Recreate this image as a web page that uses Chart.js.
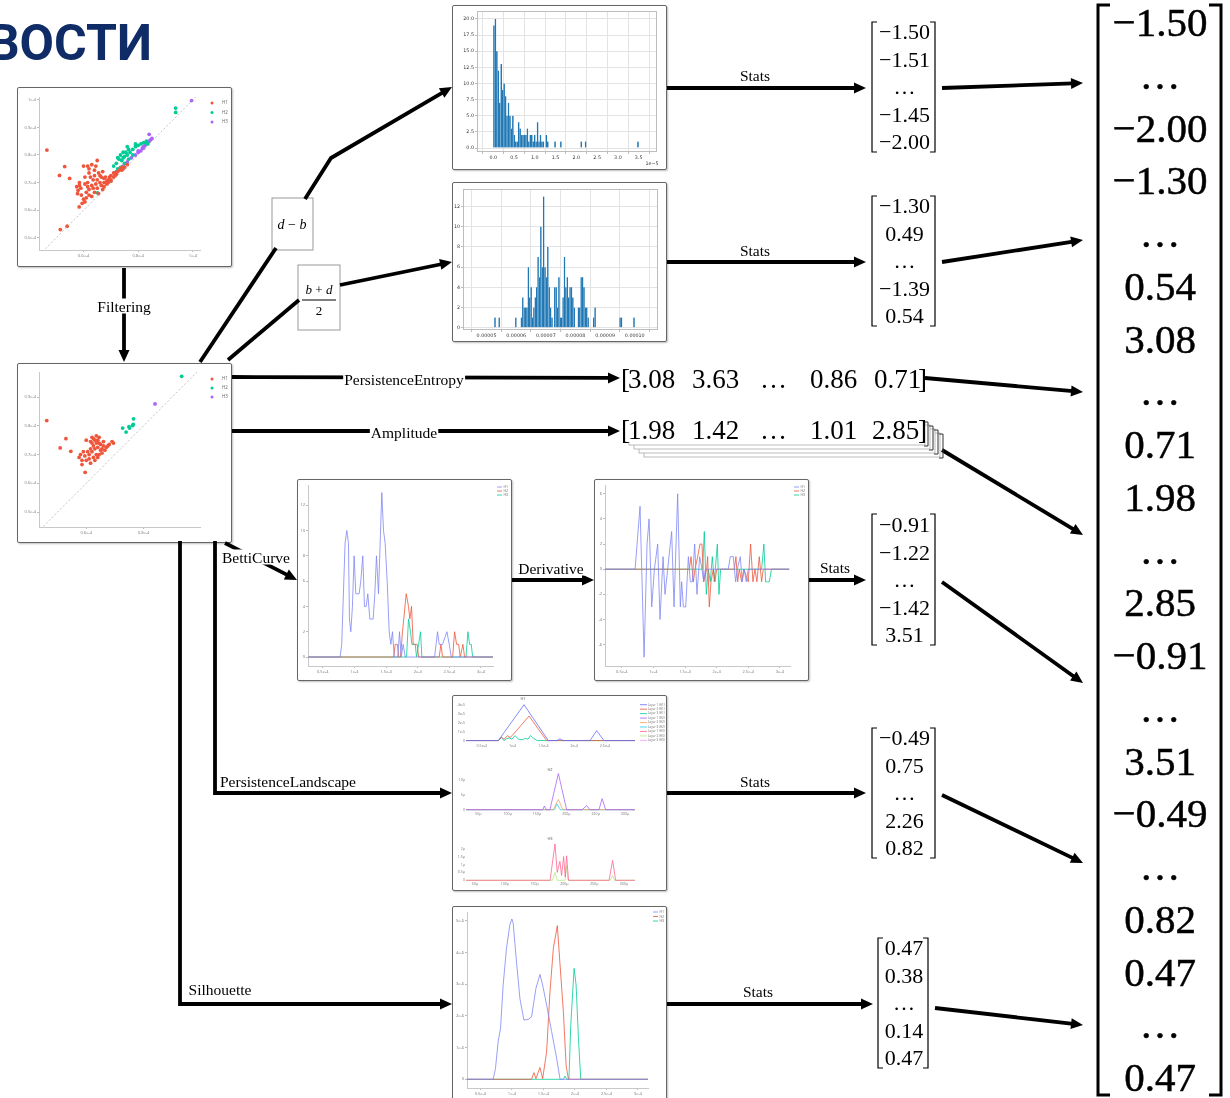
<!DOCTYPE html>
<html>
<head>
<meta charset="utf-8">
<script src="https://cdn.jsdelivr.net/npm/chart.js@4.4.1/dist/chart.umd.min.js"></script>
<style>
  html, body { margin: 0; padding: 0; background: #fff; }
  body { width: 1230px; height: 1098px; position: relative; overflow: hidden; }
  .panel { position: absolute; border: 1px solid #666; border-radius: 2px; background: #fff;
           box-shadow: 1px 1px 2px rgba(0,0,0,0.25); overflow: hidden; z-index: 1; }
  .panel canvas { display: block; }
  #diagram { position: absolute; left: 0; top: 0; z-index: 2; pointer-events: none; }
</style>
</head>
<body>
<div class="panel" style="left:17px;top:87px;width:213px;height:178px"><canvas id="scatter1" width="213" height="178"></canvas></div>
<div class="panel" style="left:17px;top:363px;width:213px;height:178px"><canvas id="scatter2" width="213" height="178"></canvas></div>
<div class="panel" style="left:452px;top:5px;width:213px;height:163px"><canvas id="hist1" width="213" height="163"></canvas></div>
<div class="panel" style="left:452px;top:182px;width:213px;height:158px"><canvas id="hist2" width="213" height="158"></canvas></div>
<div class="panel" style="left:297px;top:479px;width:213px;height:200px"><canvas id="betti" width="213" height="200"></canvas></div>
<div class="panel" style="left:594px;top:479px;width:213px;height:200px"><canvas id="deriv" width="213" height="200"></canvas></div>
<div class="panel" style="left:452px;top:695px;width:213px;height:194px">
  <canvas id="land1" width="213" height="60"></canvas>
  <canvas id="land2" width="213" height="70"></canvas>
  <canvas id="land3" width="213" height="64"></canvas>
</div>
<div class="panel" style="left:452px;top:906px;width:213px;height:198px"><canvas id="silh" width="213" height="198"></canvas></div>
<svg id="diagram" width="1230" height="1098"></svg>

<script>
// ---------- data (x in units of 1e-4 unless noted) ----------
const homologyLabels = ['H1', 'H2', 'H3'];

const diagH1 = [[0.466,0.818],[0.512,0.726],[0.531,0.758],[0.549,0.715],[0.515,0.530],[0.540,0.542],[0.584,0.612],
  [0.575,0.685],[0.58,0.672],[0.585,0.69],[0.59,0.68],[0.578,0.66],[0.592,0.655],[0.6,0.64],[0.595,0.625],[0.605,0.63],
  [0.61,0.645],[0.585,0.70],[0.6,0.76],[0.615,0.76],[0.63,0.765],[0.645,0.76],[0.65,0.78],[0.64,0.745],[0.62,0.735],
  [0.605,0.72],[0.625,0.72],[0.635,0.71],[0.655,0.735],[0.665,0.72],[0.67,0.74],[0.68,0.72],[0.69,0.71],[0.66,0.70],
  [0.645,0.695],[0.63,0.69],[0.615,0.70],[0.65,0.68],[0.665,0.69],[0.675,0.70],[0.685,0.695],[0.695,0.72],[0.70,0.705],
  [0.71,0.72],[0.72,0.735],[0.72,0.73],[0.73,0.745],[0.74,0.755],[0.745,0.75],[0.62,0.675],[0.64,0.665],[0.655,0.66],
  [0.67,0.675],[0.675,0.685],[0.69,0.70],[0.63,0.65],[0.62,0.655],[0.61,0.665],[0.7,0.71],[0.715,0.725],[0.74,0.745],
  [0.76,0.765],[0.75,0.755],[0.65,0.71],[0.66,0.725],[0.64,0.725],[0.605,0.695],[0.615,0.685],[0.635,0.68],[0.675,0.715],
  [0.685,0.705],[0.62,0.75],[0.7,0.725],[0.71,0.735],[0.725,0.74]];
const diagH2 = [[0.651,0.663],[0.71,0.76],[0.72,0.77],[0.725,0.79],[0.73,0.785],[0.735,0.80],[0.74,0.78],[0.745,0.79],
  [0.75,0.795],[0.755,0.81],[0.76,0.80],[0.76,0.83],[0.765,0.82],[0.77,0.81],[0.78,0.82],[0.79,0.83],[0.80,0.835],
  [0.81,0.84],[0.82,0.845],[0.83,0.85],[0.835,0.84],[0.79,0.84],[0.745,0.81],[0.725,0.75],[0.72,0.74],[0.735,0.755],
  [0.75,0.77],[0.765,0.785],[0.78,0.80],[0.937,0.97],[0.937,0.954]];
const diagH3 = [[0.715,0.735],[0.73,0.75],[0.745,0.76],[0.76,0.775],[0.775,0.79],[0.79,0.80],[0.80,0.81],[0.81,0.815],
  [0.815,0.825],[0.82,0.83],[0.825,0.835],[0.83,0.84],[0.835,0.845],[0.84,0.85],[0.845,0.855],[0.85,0.86],[0.82,0.825],
  [0.80,0.815],[0.84,0.875],[0.995,0.997]];

const filtH1 = [[0.462,0.818],[0.509,0.723],[0.529,0.755],[0.546,0.711],[0.596,0.638],[0.575,0.69],[0.58,0.70],[0.585,0.68],
  [0.59,0.71],[0.595,0.695],[0.60,0.68],[0.585,0.665],[0.605,0.71],[0.61,0.70],[0.615,0.72],[0.62,0.74],[0.625,0.755],
  [0.63,0.75],[0.635,0.765],[0.64,0.75],[0.645,0.74],[0.62,0.71],[0.63,0.72],[0.64,0.725],[0.635,0.70],[0.65,0.735],
  [0.655,0.72],[0.66,0.73],[0.665,0.715],[0.67,0.725],[0.675,0.73],[0.68,0.735],[0.645,0.70],[0.65,0.715],[0.625,0.69],
  [0.61,0.685],[0.615,0.67],[0.63,0.68],[0.64,0.69],[0.655,0.705],[0.62,0.76],[0.645,0.76],[0.615,0.745],[0.625,0.73],
  [0.66,0.745],[0.635,0.74],[0.69,0.745],[0.695,0.74],[0.60,0.75]];
const filtH2 = [[0.727,0.792],[0.739,0.778],[0.749,0.797],[0.751,0.792],[0.762,0.801],[0.765,0.824],[0.764,0.805],[0.933,0.972]];
const filtH3 = [[0.84,0.876]];

// histogram of d - b (units 1e-5), 100 bins from 0 to 3.5
const hist1Start = 0, hist1Width = 0.035;
const hist1Counts = [19,20,15,12,7,13,9,10,8,5, 7,5,3,5,2,1,1,4,3,2, 2,2,2,3,1,2,2,1,2,1, 4,1,2,1,1,0,2,1,0,0,
  0,0,1,0,0,0,1,0,0,0, 0,0,0,0,0,0,0,0,0,0, 1,0,0,1,0,0,0,0,0,0, 0,0,0,0,0,0,0,0,0,0, 0,0,0,0,0,0,0,0,0,0, 0,0,0,0,0,0,0,0,0,1];
// histogram of (b + d) / 2 (units 1e-5)
const hist2Start = 5.263, hist2Width = 0.0469;
const hist2Counts = [1,0,0,1,0,0,0,0,0,0, 0,0,0,0,0,1,0,0,0,1, 3,2,2,2,6,3,4,1,2,3, 4,7,5,10,6,13,6,5,8,4,
  2,1,0,4,4,2,5,1,1,3, 7,4,5,3,4,4,3,2,0,0, 2,2,5,5,4,2,2,1,0,0, 0,1,2,0,0,0,0,0,0,0, 0,0,0,0,0,0,0,0,0,0, 1,1,0,0,0,0,0,0,0,0, 1];

const bettiH1 = [[0.273,0],[0.774,0],[0.80,1],[0.853,9],[0.88,10],[0.906,9],[0.922,3],[0.943,2],[0.969,4],[0.996,8],
  [1.022,5],[1.075,5],[1.101,6],[1.133,8],[1.159,4],[1.186,4],[1.212,5],[1.244,3],[1.296,3],[1.323,5],[1.349,8],[1.381,5],
  [1.433,13],[1.46,10],[1.486,9],[1.518,6],[1.55,2],[1.576,1],[1.602,2],[1.629,0],[1.687,0],[1.713,2],[1.739,0],[1.771,1],
  [1.803,0],[2.267,0],[2.314,2],[2.34,1],[2.393,1],[2.462,2],[2.499,1],[2.53,0],[3.19,0]];
const bettiH2 = [[0.273,0],[1.623,0],[1.644,1],[1.681,1],[1.697,0],[1.729,0],[1.76,2],[1.819,5],[1.855,4],[1.876,3],
  [1.903,4],[1.929,1],[1.992,1],[2.014,0],[2.34,0],[2.367,1],[2.393,0],[2.552,0],[2.583,2],[2.615,1],[2.647,1],[2.673,0],
  [2.715,1],[2.741,0],[3.19,0]];
const bettiH3 = [[0.273,0],[1.824,0],[1.855,3],[1.887,2],[1.908,1],[1.961,1],[1.982,0],[2.014,1],[2.045,2],[2.066,0],
  [2.763,0],[2.794,2],[2.821,1],[2.847,1],[2.868,0],[3.19,0]];

const derivH1 = [[0.237,0],[0.711,0],[0.789,5],[0.853,-7],[0.9,2],[0.932,4],[0.974,-3],[1.016,0],[1.068,2],[1.105,-4],
  [1.153,1],[1.184,-2],[1.226,0],[1.289,3],[1.326,-3],[1.384,6],[1.426,-3],[1.447,-1],[1.474,-3],[1.511,-3],[1.553,1],
  [1.584,-1],[1.616,-1],[1.653,2],[1.689,-2],[1.732,1],[1.768,0],[1.795,-1],[1.821,0],[2.184,0],[2.216,1],[2.263,1],
  [2.3,-1],[2.326,0],[2.374,1],[2.405,-1],[2.437,0],[2.468,-1],[2.5,0],[3.147,0]];
const derivH2 = [[0.237,0],[1.568,0],[1.595,1],[1.632,-1],[1.658,0],[1.7,1],[1.737,2],[1.768,2],[1.795,-1],[1.842,0],
  [1.858,1],[1.884,-3],[1.911,-1],[1.947,0],[1.974,-1],[2.0,0],[2.279,0],[2.305,1],[2.332,-1],[2.358,0],[2.395,-1],
  [2.43,0],[2.5,-1],[2.537,2],[2.574,-1],[2.605,0],[2.637,-1],[2.674,1],[2.711,-1],[2.737,0],[3.147,0]];
const derivH3 = [[0.237,0],[1.779,0],[1.805,3],[1.837,-2],[1.868,0],[1.9,-1],[1.932,1],[1.963,-1],[2.011,2],[2.037,-2],
  [2.063,0],[2.711,0],[2.747,2],[2.774,-1],[2.805,-1],[2.832,-1],[2.868,0],[3.147,0]];

// persistence landscapes: H1 (x 1e-4, y 1e-5), H2 / H3 (x and y in µ)
const landH1L1 = [[0.245,0],[0.77,0],[1.186,4.0],[1.581,0],[1.72,0],[1.77,0.2],[1.82,0],[2.257,0],[2.365,1.1],[2.484,0],[2.99,0]];
const landH1L2 = [[0.245,0],[0.77,0],[0.82,0.4],[0.86,0.15],[0.92,0.55],[0.96,0.35],[1.0,0.6],[1.268,2.73],[1.554,0],[2.99,0]];
const landH1L3 = [[0.245,0],[0.77,0],[0.82,0.35],[0.86,0],[0.9,0.2],[0.95,0.3],[0.99,0.15],[1.04,0.55],[1.1,0.15],
  [1.16,0.1],[1.21,0.25],[1.25,0.15],[1.29,0.55],[1.33,0.3],[1.4,0],[2.99,0]];
const landH2L1 = [[29,0],[160,0],[162.5,1.25],[166,0],[172,0],[186.4,12.3],[200.5,0],[227,0],[234.6,1.4],[240,0],
  [255.6,0],[261,3.75],[267,0],[317,0]];
const landH2L2 = [[29,0],[177.6,0],[186.4,3.5],[194,0],[317,0]];
const landH2L3 = [[29,0],[180,0],[183.5,2.0],[190,0],[317,0]];
const landH3L1 = [[34.9,0],[176,0],[184.2,2.3],[188,0.5],[192.5,1.2],[195.3,0.3],[198.7,1.5],[201.5,0.2],[203.7,1.55],
  [207,0],[275,0],[280.9,1.26],[286,0],[318.5,0]];
const landH3L2 = [[34.9,0],[180,0],[184.2,0.5],[188,0],[201,0],[203.7,0.9],[206,0],[277,0],[280.9,0.3],[284,0],[318.5,0]];
const landLegend = ['Layer 1 (H1)','Layer 2 (H1)','Layer 3 (H1)','Layer 1 (H2)','Layer 2 (H2)','Layer 3 (H2)',
  'Layer 1 (H3)','Layer 2 (H3)','Layer 3 (H3)'];

// silhouettes (y in 1e-6)
const silH1 = [[0.288,0],[0.702,0],[0.739,0.34],[0.781,1.18],[0.819,1.6],[0.861,2.98],[0.914,4.14],[0.967,4.87],
  [0.999,5.06],[1.02,4.93],[1.063,3.92],[1.127,2.55],[1.19,1.87],[1.259,1.89],[1.312,1.97],[1.381,2.87],[1.445,3.31],
  [1.488,2.97],[1.551,2.34],[1.631,1.5],[1.711,0.65],[1.764,0],[3.16,0]];
const silH2 = [[0.288,0],[1.312,0],[1.35,0.21],[1.381,0.02],[1.445,0.37],[1.488,0.02],[1.551,0.87],[1.604,2.76],
  [1.658,4.14],[1.721,4.85],[1.764,3.61],[1.817,2.13],[1.86,0.44],[1.897,0],[3.16,0]];
const silH3 = [[0.288,0],[1.817,0],[1.843,0.1],[1.87,0],[1.905,0],[1.934,1.71],[1.987,3.5],[2.019,2.97],[2.056,1.29],
  [2.093,0],[3.16,0]];

// tick values
const e4Ticks = [0.5, 1, 1.5, 2, 2.5, 3];
const diagTicksY1 = [0.5, 0.6, 0.7, 0.8, 0.9, 1.0];
const diagTicksY2 = [0.5, 0.6, 0.7, 0.8, 0.9];

// vectors shown in the diagram
const statsDB = ['−1.50', '−1.51', '…', '−1.45', '−2.00'];
const statsMid = ['−1.30', '0.49', '…', '−1.39', '0.54'];
const statsBetti = ['−0.91', '−1.22', '…', '−1.42', '3.51'];
const statsLand = ['−0.49', '0.75', '…', '2.26', '0.82'];
const statsSil = ['0.47', '0.38', '…', '0.14', '0.47'];
const entropyRow = ['3.08', '3.63', '…', '0.86', '0.71'];
const amplitudeRow = ['1.98', '1.42', '…', '1.01', '2.85'];
const featureVector = ['−1.50','…','−2.00','−1.30','…','0.54','3.08','…','0.71','1.98','…','2.85',
  '−0.91','…','3.51','−0.49','…','0.82','0.47','…','0.47'];

// ---------- chart helpers ----------
const RED = '#ef553b', GREEN = '#00cc96', PURPLE = '#ab63fa', BLUE = '#7f86f4';
const LAYER_COLORS = ['#636efa', '#ef553b', '#00cc96', '#ab63fa', '#ffa15a', '#19d3f3', '#ff6692', '#b6e880', '#ff97ff'];
const pts = a => a.map(([x, y]) => ({ x, y }));
const e4 = v => `${Math.round(v * 10) / 10}e-4`;

Chart.defaults.animation = false;
Chart.defaults.responsive = false;
Chart.defaults.font.family = 'Open Sans';
Chart.defaults.font.size = 5;
Chart.defaults.plugins.legend.display = false;
Chart.defaults.plugins.tooltip.enabled = false;

function axis(o) {
  return {
    type: 'linear', position: o.pos, min: o.min, max: o.max,
    afterBuildTicks: s => { s.ticks = o.ticks.map(v => ({ value: v })); },
    afterFit: s => { if (o.pos === 'bottom') s.height = o.size; else s.width = o.size; },
    ticks: { callback: o.fmt || (v => v), font: { size: o.fs || 5, family: o.family || 'Open Sans' },
             color: o.color || '#777', padding: o.pad ?? 1, maxRotation: 0, autoSkip: false },
    grid: { display: o.tick !== 0 || !!o.grid, drawOnChartArea: !!o.grid, drawTicks: o.tick !== 0,
            color: o.gridColor || '#e3e3e3', tickColor: o.tickColor || '#bbb', tickLength: o.tick || 2 },
    border: { display: o.border !== false, color: o.borderColor || '#c8c8c8', width: 1 }
  };
}

const deco = {
  id: 'deco',
  afterDraw(chart, args, o) {
    const ctx = chart.ctx, a = chart.chartArea;
    ctx.save();
    if (o.frame) {
      ctx.strokeStyle = o.frame; ctx.lineWidth = 1;
      ctx.strokeRect(a.left + 0.5, a.top + 0.5, a.right - a.left - 1, a.bottom - a.top - 1);
    }
    (o.texts || []).forEach(t => {
      ctx.font = t.font; ctx.fillStyle = t.color || '#555';
      ctx.textAlign = t.align || 'left'; ctx.textBaseline = 'middle';
      ctx.fillText(t.text, t.x, t.y);
    });
    if (o.legend) {
      const L = o.legend;
      L.items.forEach((it, i) => {
        const y = L.y + i * L.dy;
        ctx.fillStyle = it.color; ctx.strokeStyle = it.color;
        if (L.type === 'dot') { ctx.beginPath(); ctx.arc(L.x, y, L.r || 1.5, 0, 7); ctx.fill(); }
        else { ctx.lineWidth = 0.8; ctx.beginPath(); ctx.moveTo(L.x, y); ctx.lineTo(L.x + L.len, y); ctx.stroke(); }
        ctx.fillStyle = '#666'; ctx.font = L.font; ctx.textAlign = 'left'; ctx.textBaseline = 'middle';
        ctx.fillText(it.label, L.x + L.tx, y);
      });
    }
    ctx.restore();
  }
};
Chart.register(deco);

const lineSet = (data, color) => ({ data: pts(data), showLine: true, borderColor: color, borderWidth: 0.8,
  pointRadius: 0, tension: 0, fill: false });
const dotSet = (data, color) => ({ data: pts(data), backgroundColor: color, borderWidth: 0, pointRadius: 1.9 });

// ---------- persistence diagrams ----------
function diagram(id, sets, o) {
  new Chart(document.getElementById(id), {
    type: 'scatter',
    data: { datasets: [
      { data: [{ x: 0.44, y: 0.44 }, { x: 1.01, y: 1.01 }], showLine: true, borderColor: '#aaa', borderWidth: 0.7,
        borderDash: [2, 2], pointRadius: 0 },
      dotSet(sets[0], RED), dotSet(sets[1], GREEN), dotSet(sets[2], PURPLE)
    ] },
    options: {
      layout: { padding: { left: 0, top: o.top, right: 31, bottom: 0 } },
      scales: {
        x: axis({ pos: 'bottom', min: o.xmin, max: o.xmax, ticks: o.xt, fmt: e4, size: o.xh, fs: 4 }),
        y: axis({ pos: 'left', min: o.ymin, max: o.ymax, ticks: o.yt, fmt: e4, size: 21, fs: 4 })
      },
      plugins: { deco: { legend: { type: 'dot', x: 194, y: 15, dy: o.ldy, tx: 10, r: 1.5, font: '4.5px Open Sans',
        items: homologyLabels.map((l, i) => ({ label: l, color: [RED, GREEN, PURPLE][i] })) } } }
    }
  });
}
diagram('scatter1', [diagH1, diagH2, diagH3], { top: 9, xh: 16, xmin: 0.437, xmax: 1.026, ymin: 0.456, ymax: 1.01,
  xt: [0.6, 0.8, 1.0], yt: diagTicksY1, ldy: 9.5 });
diagram('scatter2', [filtH1, filtH2, filtH3], { top: 8, xh: 15, xmin: 0.435, xmax: 0.997, ymin: 0.448, ymax: 0.987,
  xt: [0.6, 0.8], yt: diagTicksY2, ldy: 9 });

// ---------- histograms ----------
function histogram(id, start, width, counts, o) {
  new Chart(document.getElementById(id), {
    type: 'bar',
    data: { datasets: [{ data: counts.map((c, i) => ({ x: start + (i + 0.5) * width, y: c })),
      backgroundColor: '#1f77b4', borderColor: 'rgba(255,255,255,0.35)', borderWidth: 0.3,
      barPercentage: 1, categoryPercentage: 1 }] },
    options: {
      layout: { padding: { left: 0, top: o.top, right: o.right, bottom: 0 } },
      scales: {
        x: axis({ pos: 'bottom', min: o.xmin, max: o.xmax, ticks: o.xt, fmt: o.xfmt, size: o.xh, grid: true,
          family: 'DejaVu Sans', color: '#333', border: false, fs: 4.8 }),
        y: axis({ pos: 'left', min: o.ymin, max: o.ymax, ticks: o.yt, fmt: o.yfmt, size: o.yw, grid: true,
          family: 'DejaVu Sans', color: '#333', border: false, fs: 4.8 })
      },
      plugins: { deco: { frame: '#bdbdbd', texts: o.texts || [] } }
    }
  });
}
histogram('hist1', hist1Start, hist1Width, hist1Counts, { top: 5, right: 9, xh: 17, yw: 24,
  xmin: -0.12, xmax: 3.67, ymin: -0.62, ymax: 21.24,
  xt: [0, 0.5, 1, 1.5, 2, 2.5, 3, 3.5], yt: [0, 2.5, 5, 7.5, 10, 12.5, 15, 17.5, 20],
  xfmt: v => v.toFixed(1), yfmt: v => v.toFixed(1),
  texts: [{ x: 199, y: 158, text: '1e−5', align: 'center', font: '4.8px DejaVu Sans', color: '#333' }] });
histogram('hist2', hist2Start, hist2Width, hist2Counts, { top: 6, right: 8, xh: 11, yw: 10,
  xmin: 4.755, xmax: 10.237, ymin: -0.23, ymax: 13.75,
  xt: [5, 6, 7, 8, 9, 10], yt: [0, 2, 4, 6, 8, 10, 12],
  xfmt: v => (v * 1e-5).toFixed(5), yfmt: v => v });

// ---------- curves ----------
function curves(id, sets, o) {
  new Chart(document.getElementById(id), {
    type: 'scatter',
    data: { datasets: sets.map(s => lineSet(s[0], s[1])) },
    options: {
      layout: { padding: { left: 0, top: o.top, right: o.right, bottom: 0 } },
      scales: {
        x: axis({ pos: 'bottom', min: o.xmin, max: o.xmax, ticks: o.xt, fmt: o.xfmt || e4, size: o.xh,
          border: o.axes !== false, tick: o.axes === false ? 0 : 2, fs: o.fs || 4 }),
        y: axis({ pos: 'left', min: o.ymin, max: o.ymax, ticks: o.yt, fmt: o.yfmt || (v => v), size: o.yw,
          border: o.axes !== false, tick: o.axes === false ? 0 : 2, fs: o.fs || 4 })
      },
      plugins: { deco: { legend: o.legend, texts: o.texts || [] } }
    }
  });
}
const hLegend = (x, y, dy) => ({ type: 'line', x, y, dy, len: 5, tx: 6.5, font: '3.5px Open Sans',
  items: homologyLabels.map((l, i) => ({ label: l, color: [BLUE, RED, GREEN][i] })) });

curves('betti', [[bettiH1, BLUE], [bettiH2, RED], [bettiH3, GREEN]], { top: 5, right: 18, xh: 14, yw: 10,
  xmin: 0.267, xmax: 3.19, ymin: -0.71, ymax: 13.6, xt: e4Ticks, yt: [0, 2, 4, 6, 8, 10, 12],
  legend: hLegend(199, 7, 4) });
curves('deriv', [[derivH1, BLUE], [derivH2, RED], [derivH3, GREEN]], { top: 5, right: 18, xh: 14, yw: 10,
  xmin: 0.235, xmax: 3.16, ymin: -7.7, ymax: 6.7, xt: e4Ticks, yt: [-6, -4, -2, 0, 2, 4, 6],
  legend: hLegend(199, 7, 4) });
curves('silh', [[silH1, BLUE], [silH2, RED], [silH3, GREEN]], { top: 5, right: 18, xh: 17, yw: 14,
  xmin: 0.287, xmax: 3.16, ymin: -0.275, ymax: 5.28, xt: e4Ticks, yt: [0, 1, 2, 3, 4, 5],
  yfmt: v => v === 0 ? '0' : v + 'e-6', legend: hLegend(200, 5, 4.5) });

const mu = v => v === 0 ? '0' : v + 'µ';
curves('land1', [[landH1L1, LAYER_COLORS[0]], [landH1L2, LAYER_COLORS[1]], [landH1L3, LAYER_COLORS[2]]],
  { top: 6, right: 31, xh: 13, yw: 13, axes: false, fs: 3.6, xmin: 0.245, xmax: 2.987, ymin: -0.27, ymax: 4.3,
    xt: [0.5, 1, 1.5, 2, 2.5], yt: [0, 1, 2, 3, 4], yfmt: v => v === 0 ? '0' : v + 'e-5',
    texts: [{ x: 70, y: 3, text: 'H1', align: 'center', font: '4px Open Sans', color: '#555' }],
    legend: { type: 'line', x: 187, y: 8.7, dy: 4.46, len: 7, tx: 8, font: '3px Open Sans',
      items: landLegend.map((l, i) => ({ label: l, color: LAYER_COLORS[i] })) } });
curves('land2', [[landH2L1, LAYER_COLORS[3]], [landH2L2, LAYER_COLORS[4]], [landH2L3, LAYER_COLORS[5]]],
  { top: 17, right: 31, xh: 15, yw: 13, axes: false, fs: 3.6, xmin: 29, xmax: 317, ymin: -0.44, ymax: 12.48,
    xt: [50, 100, 150, 200, 250, 300], yt: [0, 5, 10], xfmt: mu, yfmt: mu,
    texts: [{ x: 97, y: 14, text: 'H2', align: 'center', font: '4px Open Sans', color: '#555' }] });
curves('land3', [[landH3L1, LAYER_COLORS[6]], [landH3L2, LAYER_COLORS[7]]],
  { top: 17, right: 31, xh: 9, yw: 13, axes: false, fs: 3.6, xmin: 34.9, xmax: 318.5, ymin: -0.044, ymax: 2.36,
    xt: [50, 100, 150, 200, 250, 300], yt: [0, 0.5, 1, 1.5, 2], xfmt: mu, yfmt: mu,
    texts: [{ x: 97, y: 13, text: 'H3', align: 'center', font: '4px Open Sans', color: '#555' }] });

// ---------- diagram: arrows, labels, vectors ----------
const NS = 'http://www.w3.org/2000/svg';
const svg = document.getElementById('diagram');
function add(tag, attrs, text, parent = svg) {
  const e = document.createElementNS(NS, tag);
  for (const k in attrs) e.setAttribute(k, attrs[k]);
  if (text != null) e.textContent = text;
  parent.appendChild(e);
  return e;
}
function arrow(p, head = true) {
  p = p.slice();
  if (head) {
    const [x2, y2] = p[p.length - 1], [x1, y1] = p[p.length - 2];
    const d = Math.hypot(x2 - x1, y2 - y1), ux = (x2 - x1) / d, uy = (y2 - y1) / d, L = 12, W = 5.5;
    p[p.length - 1] = [x2 - ux * (L - 2), y2 - uy * (L - 2)];
    add('polygon', { fill: '#000', points: `${x2},${y2} ${x2 - ux * L - uy * W},${y2 - uy * L + ux * W} ${x2 - ux * L + uy * W},${y2 - uy * L - ux * W}` });
  }
  add('polyline', { points: p.map(q => q.join(',')).join(' '), fill: 'none', stroke: '#000', 'stroke-width': 3.8 });
}
function label(x, y, s, size = 15.5) {
  const t = add('text', { x, y, 'font-family': 'Liberation Serif', 'font-size': size, 'text-anchor': 'middle',
    'dominant-baseline': 'central' }, s);
  const b = t.getBBox();
  const r = document.createElementNS(NS, 'rect');
  [['x', b.x - 1], ['y', b.y + 1], ['width', b.width + 2], ['height', b.height - 2], ['fill', '#fff']]
    .forEach(([k, v]) => r.setAttribute(k, v));
  svg.insertBefore(r, t);
}
function txt(x, y, s, size, anchor = 'middle', extra = {}) {
  return add('text', Object.assign({ x, y, 'font-family': 'Liberation Serif', 'font-size': size, 'text-anchor': anchor }, extra), s);
}
function bracket(x, top, bottom, dir, serif, w) {
  add('path', { d: `M${x + dir * serif},${top} H${x} V${bottom} H${x + dir * serif}`, fill: 'none', stroke: '#000', 'stroke-width': w });
}
function colVector(xl, xr, top, bottom, rows, y0, dy, size) {
  bracket(xl, top, bottom, 1, 5, 1.2);
  bracket(xr, top, bottom, -1, 5, 1.2);
  rows.forEach((s, i) => txt((xl + xr) / 2 + 1, y0 + i * dy, s, size));
}
function rowVector(y, rows, xs) {
  txt(621, y, '[', 27, 'start');
  rows.forEach((s, i) => txt(xs[i], y, s, 27, 'start'));
  txt(918, y, ']', 27, 'start');
}

// title fragment
txt(152, 60, 'ВОСТИ', 50, 'end', { 'font-family': 'Roboto', 'font-weight': 'bold', fill: '#102c66' });

// math boxes
add('rect', { x: 272, y: 198, width: 41, height: 52, fill: '#fff', stroke: '#999', 'stroke-width': 1 });
const db = txt(292, 229, '', 14);
add('tspan', { 'font-style': 'italic' }, 'd', db); add('tspan', {}, ' − ', db); add('tspan', { 'font-style': 'italic' }, 'b', db);
add('rect', { x: 298, y: 265, width: 42, height: 65, fill: '#fff', stroke: '#999', 'stroke-width': 1 });
const bd = txt(319, 294, '', 13);
add('tspan', { 'font-style': 'italic' }, 'b', bd); add('tspan', {}, ' + ', bd); add('tspan', { 'font-style': 'italic' }, 'd', bd);
add('line', { x1: 302, y1: 300, x2: 336, y2: 300, stroke: '#000', 'stroke-width': 1 });
txt(319, 315, '2', 13);

// arrows
arrow([[124, 268], [124, 362]]);
arrow([[200, 362], [276, 248]], false);
arrow([[305, 199], [331, 158], [452, 87]]);
arrow([[228, 360], [299, 300]], false);
arrow([[340, 285], [452, 262]]);
arrow([[232, 377], [620, 378]]);
arrow([[232, 431], [620, 431]]);
arrow([[225, 543], [297, 580]]);
arrow([[215, 541], [215, 793], [452, 793]]);
arrow([[180, 541], [180, 1004], [452, 1004]]);
arrow([[667, 88], [866, 88]]);
arrow([[667, 262], [866, 262]]);
arrow([[512, 580], [594, 580]]);
arrow([[809, 580], [866, 580]]);
arrow([[667, 793], [866, 793]]);
arrow([[667, 1004], [873, 1004]]);
arrow([[942, 88], [1083, 83]]);
arrow([[942, 262], [1083, 240]]);
arrow([[925, 378], [1083, 392]]);
arrow([[942, 450], [1083, 535]]);
arrow([[942, 582], [1083, 683]]);
arrow([[942, 795], [1083, 863]]);
arrow([[935, 1008], [1083, 1025]]);

// arrow labels
label(124, 306, 'Filtering');
label(404, 379, 'PersistenceEntropy');
label(404, 432, 'Amplitude');
label(256, 557, 'BettiCurve');
label(288, 781, 'PersistenceLandscape');
label(220, 989, 'Silhouette');
label(551, 568, 'Derivative');
label(755, 75, 'Stats');
label(755, 250, 'Stats');
label(835, 567, 'Stats');
label(755, 781, 'Stats');
label(758, 991, 'Stats');

// column vectors of statistics
colVector(872, 935, 22, 152, statsDB, 39, 27.5, 22);
colVector(872, 935, 196, 326, statsMid, 213, 27.5, 22);
colVector(872, 935, 514, 645, statsBetti, 532, 27.5, 22);
colVector(872, 935, 728, 858, statsLand, 745, 27.5, 22);
colVector(878, 928, 938, 1068, statsSil, 955, 27.5, 22);

// row vectors
rowVector(388, entropyRow, [628, 692, 760, 810, 874]);
for (let i = 4; i >= 1; i--) {
  add('rect', { x: 624 + 5 * i, y: 417 + 4 * i, width: 296, height: 24, fill: '#fff', stroke: '#aaa', 'stroke-width': 0.8 });
  add('path', { d: `M${919 + 5 * i},${418 + 4 * i} h4 v24 h-4`, fill: 'none', stroke: '#333', 'stroke-width': 1 });
}
add('rect', { x: 622, y: 416, width: 302, height: 26, fill: '#fff' });
rowVector(439, amplitudeRow, [628, 692, 760, 810, 872]);

// final feature vector
bracket(1098, 5, 1095, 1, 12, 3);
bracket(1221, 5, 1095, -1, 12, 3);
featureVector.forEach((s, i) => txt(1160, 36 + i * 52.75, s, 41, 'middle', { stroke: '#000', 'stroke-width': 0.5 }));
</script>
</body>
</html>
